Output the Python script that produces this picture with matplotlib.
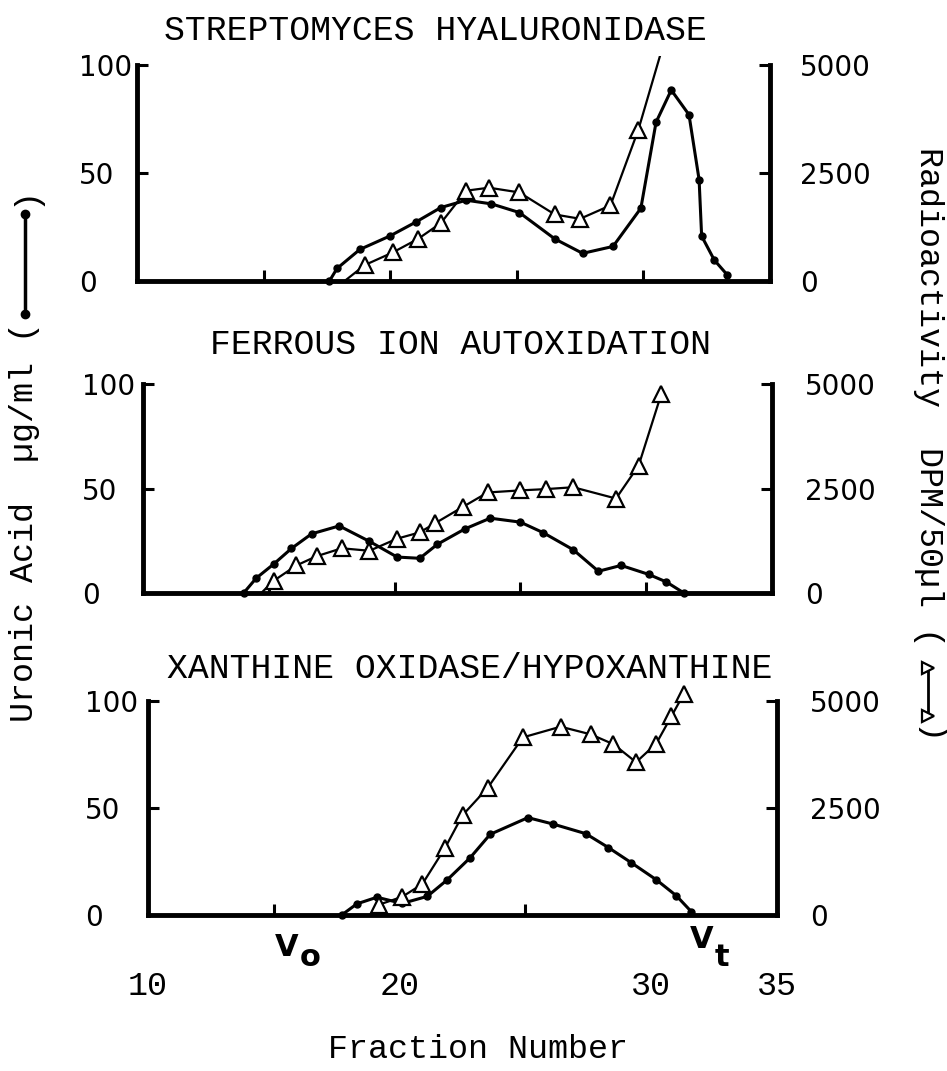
import matplotlib.pyplot as plt
from matplotlib.lines import Line2D

W, H = 947, 1071
MONO = ['Liberation Mono', 'DejaVu Sans Mono']
plt.rcParams['font.family'] = ['DejaVu Sans']

titles = ["STREPTOMYCES HYALURONIDASE",
          "FERROUS ION AUTOXIDATION",
          "XANTHINE OXIDASE/HYPOXANTHINE"]

# fraction number / uronic acid (ug/ml) / radioactivity (DPM per 50 ul)
p1_ua_x = [17.6, 17.9, 18.8, 20.0, 21.0, 22.0, 23.0, 24.0, 25.1, 26.5, 27.6,
           28.8, 29.9, 30.5, 31.1, 31.8, 32.2, 32.3, 32.8, 33.3]
p1_ua_y = [0, 5.8, 14.6, 20.9, 27.2, 34.0, 37.4, 35.7, 31.7, 19.5, 12.8,
           16.0, 33.7, 73.5, 88.4, 77.0, 46.9, 20.8, 9.7, 3.0]
p1_dpm_x = [18.2, 19.0, 20.1, 21.1, 22.0, 23.0, 23.9, 25.1, 26.5, 27.5,
            28.7, 29.8, 31.1]
p1_dpm_y = [0, 370, 660, 975, 1340, 2090, 2160, 2050, 1540, 1440,
            1750, 3500, 6100]

p2_ua_x = [14.0, 14.5, 15.2, 15.9, 16.7, 17.8, 19.0, 20.1, 21.0, 21.7, 22.8,
           23.8, 25.0, 25.9, 27.1, 28.1, 29.0, 30.1, 30.8, 31.5]
p2_ua_y = [0, 7.1, 13.9, 21.3, 28.3, 32.1, 24.7, 17.2, 16.6, 23.3, 30.7,
           35.8, 33.9, 28.9, 20.7, 10.4, 13.2, 8.9, 5.3, 0]
p2_dpm_x = [14.7, 15.2, 16.1, 16.9, 17.9, 19.0, 20.1, 21.0, 21.6, 22.7,
            23.7, 25.0, 26.0, 27.1, 28.8, 29.7, 30.6]
p2_dpm_y = [0, 295, 660, 880, 1070, 1010, 1300, 1450, 1665, 2055,
            2405, 2455, 2485, 2530, 2260, 3050, 4760]

p3_ua_x = [17.7, 18.3, 19.1, 20.1, 21.1, 21.9, 22.8, 23.6, 25.1, 26.1,
           27.4, 28.3, 29.2, 30.2, 31.0, 31.6]
p3_ua_y = [0, 5.2, 8.3, 5.4, 8.7, 16.5, 26.7, 37.7, 45.5, 42.5,
           38.0, 31.5, 24.5, 16.5, 9.0, 1.5]
p3_dpm_x = [19.2, 20.1, 20.9, 21.8, 22.5, 23.5, 24.9, 26.4, 27.6, 28.5,
            29.4, 30.2, 30.8, 31.3]
p3_dpm_y = [245, 425, 720, 1560, 2330, 2970, 4150, 4400, 4220, 3990,
            3570, 4005, 4640, 5170]

ua_ticks = [0, 50, 100]
dpm_ticks = [0, 2500, 5000]
fraction_marks = [15, 20, 25, 30]
fraction_labels = [10, 20, 30, 35]

data = [(p1_ua_x, p1_ua_y, p1_dpm_x, p1_dpm_y),
        (p2_ua_x, p2_ua_y, p2_dpm_x, p2_dpm_y),
        (p3_ua_x, p3_ua_y, p3_dpm_x, p3_dpm_y)]

# pixel layout: left spine, right spine, y of 0, y of 100, ylim top,
# left label pad, right label pad, title centre
layout = [(137, 770, 281, 65, 104, 58, 30, (435, 30)),
          (143, 772, 593, 384, 110, 61, 33, (460, 345)),
          (148, 777, 915, 701, 110, 63, 33, (470, 668))]

fig = plt.figure(figsize=(W / 100, H / 100), dpi=100)

for i, (ua_x, ua_y, dpm_x, dpm_y) in enumerate(data):
    x0, x1, y0, y100, top, lpad, rpad, tpos = layout[i]
    unit = (y0 - y100) / 100.0
    bot_px = y0 + unit * 2
    top_px = y0 - unit * top
    ax = fig.add_axes([x0 / W, 1 - bot_px / H, (x1 - x0) / W, (bot_px - top_px) / H])
    ax.set_xlim(10, 35)
    ax.set_ylim(-2, top)
    ax.patch.set_visible(False)
    for s in ['top', 'right']:
        ax.spines[s].set_visible(False)
    ax.spines['bottom'].set_position(('data', 0))
    ax.spines['left'].set_bounds(0, 100)
    for s in ['left', 'bottom']:
        ax.spines[s].set_linewidth(3.5)
        ax.spines[s].set_capstyle('projecting')

    ax2 = ax.twinx()
    ax2.set_ylim(-100, top * 50)
    for s in ['top', 'left', 'bottom']:
        ax2.spines[s].set_visible(False)
    ax2.spines['right'].set_bounds(0, 5000)
    ax2.spines['right'].set_linewidth(3.5)
    ax2.spines['right'].set_capstyle('projecting')

    ax.plot(ua_x, ua_y, color='black', lw=2.2, marker='o', ms=5)
    ax2.plot(dpm_x, dpm_y, color='black', lw=1.6, marker='^', ms=12,
             mfc='white', mec='black', mew=1.6,
             markevery=slice(1, None) if dpm_y[0] == 0 else None)

    ax.set_xticks(fraction_marks, minor=True)
    ax.tick_params(axis='x', which='minor', direction='in', length=8, width=2.2)
    if i == 2:
        ax.set_xticks(fraction_labels)
        ax.tick_params(axis='x', which='major', length=0, pad=40, labelsize=24)
        for lab in ax.get_xticklabels():
            lab.set_fontfamily(MONO)
    else:
        ax.set_xticks([])

    ax.set_yticks(ua_ticks)
    ax.tick_params(axis='y', direction='in', length=8, width=2.2,
                   pad=lpad * 0.72, labelsize=20)
    for lab in ax.get_yticklabels():
        lab.set_horizontalalignment('left')
    ax2.set_yticks(dpm_ticks)
    ax2.tick_params(axis='y', direction='in', length=8, width=2.2,
                    pad=rpad * 0.72, labelsize=20)

    fig.text(tpos[0] / W, 1 - tpos[1] / H, titles[i], ha='center', va='center',
             family=MONO, size=25)

# left axis label with line/dot key
fig.text(25 / W, 1 - 322 / H, "Uronic Acid  \u00b5g/ml (", rotation=90,
         ha='center', va='top', family=MONO, size=24)
fig.text(25 / W, 1 - 196 / H, ")", rotation=90, ha='center', va='center',
         family=MONO, size=24)
fig.add_artist(Line2D([25 / W, 25 / W], [1 - 214 / H, 1 - 314 / H], color='black',
                      lw=2.5, marker='o', ms=6))

# right axis label with line/triangle key
fig.text(928 / W, 1 - 147 / H, "Radioactivity  DPM/50\u00b5l (", rotation=-90,
         ha='center', va='top', family=MONO, size=24)
fig.text(928 / W, 1 - 736 / H, ")", rotation=-90, ha='center', va='center',
         family=MONO, size=24)
fig.add_artist(Line2D([928 / W, 928 / W], [1 - 668 / H, 1 - 716 / H], color='black',
                      lw=2, marker='>', ms=8, mfc='white', mec='black', mew=1.6))

# void / total volume markers
fig.text(287 / W, 1 - 948 / H, "V", ha='center', va='center', weight='bold', size=22)
fig.text(310 / W, 1 - 958 / H, "o", ha='center', va='center', weight='bold', size=22)
fig.text(702 / W, 1 - 940 / H, "V", ha='center', va='center', weight='bold', size=22)
fig.text(722 / W, 1 - 958 / H, "t", ha='center', va='center', weight='bold', size=22)

fig.text(478 / W, 1 - 1050 / H, "Fraction Number", ha='center', va='center',
         family=MONO, size=24)

fig.savefig("out.png", dpi=100, facecolor='white')
